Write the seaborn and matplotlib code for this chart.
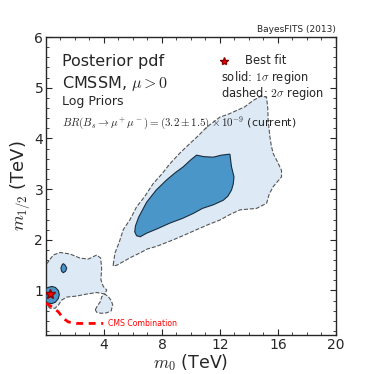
import numpy as np
import seaborn as sns
import matplotlib.pyplot as plt

# --------- #
# contour outlines (m0 [TeV], m1/2 [TeV])

# 2 sigma, main region
outer_main_m0 = [4.64, 4.76, 5.05, 5.33, 5.80, 6.25, 6.80, 7.40, 8.00, 8.55, 9.20, 9.93, 10.50,
                 11.08, 12.00, 12.60, 13.15, 13.70, 14.30, 14.87, 15.22, 15.30, 15.33, 15.45,
                 15.55, 15.68, 15.95, 16.25, 16.25, 15.68, 15.40, 15.22, 14.53, 13.38, 12.70,
                 12.00, 11.20, 10.39, 9.60, 8.78, 7.63, 7.00, 6.48, 5.90, 5.33, 4.90, 4.64]
outer_main_m12 = [1.51, 1.74, 1.95, 2.20, 2.40, 2.65, 2.85, 3.11, 3.30, 3.50, 3.70, 3.90, 4.05,
                  4.22, 4.42, 4.48, 4.55, 4.62, 4.75, 4.84, 4.81, 4.60, 4.35, 4.03,
                  3.85, 3.70, 3.55, 3.37, 3.24, 3.05, 2.90, 2.72, 2.62, 2.59, 2.50,
                  2.39, 2.30, 2.20, 2.10, 2.00, 1.87, 1.82, 1.74, 1.66, 1.57, 1.50, 1.48]

# 2 sigma, low-mass region
outer_low_m0 = [0.0, 0.09, 0.50, 0.97, 1.66, 2.34, 2.92, 3.50, 3.77, 3.84, 3.79, 3.95, 4.19, 4.07,
                3.50, 2.81, 2.12, 1.43, 1.08, 0.85, 0.62, 0.28, 0.05, 0.0]
outer_low_m12 = [1.54, 1.54, 1.70, 1.75, 1.72, 1.64, 1.62, 1.70, 1.64, 1.44, 1.21, 1.08, 1.01, 0.93,
                 0.96, 0.93, 0.89, 0.87, 0.81, 0.71, 0.65, 0.65, 0.71, 0.71]

# 2 sigma, small island
outer_isl_m0 = [3.40, 3.55, 3.75, 3.85, 4.05, 4.30, 4.50, 4.60, 4.50, 4.20, 3.80, 3.50]
outer_isl_m12 = [0.62, 0.70, 0.78, 0.88, 0.93, 0.88, 0.80, 0.72, 0.60, 0.56, 0.55, 0.57]

# 1 sigma, main region
inner_main_m0 = [6.12, 6.18, 6.40, 6.94, 7.60, 8.32, 8.90, 9.47, 10.00, 10.39, 10.90, 11.54,
                 12.10, 12.69, 12.75, 12.80, 12.97, 12.92, 12.80, 12.55, 12.23, 11.54, 10.80,
                 10.16, 9.40, 8.55, 7.70, 6.94, 6.50, 6.25]
inner_main_m12 = [2.16, 2.28, 2.45, 2.74, 2.98, 3.18, 3.32, 3.44, 3.58, 3.67, 3.64, 3.63,
                  3.67, 3.69, 3.55, 3.44, 3.24, 3.10, 2.98, 2.86, 2.78, 2.69, 2.62,
                  2.52, 2.42, 2.33, 2.22, 2.13, 2.06, 2.08]

# 1 sigma, small blob
inner_blob_m0 = [1.03, 1.10, 1.19, 1.32, 1.43, 1.35, 1.19, 1.08]
inner_blob_m12 = [1.44, 1.50, 1.53, 1.50, 1.44, 1.38, 1.35, 1.38]

# 1 sigma, around best fit
inner_bf_m0 = [0.0, 0.15, 0.40, 0.65, 0.85, 0.92, 0.85, 0.65, 0.40, 0.15, 0.0]
inner_bf_m12 = [0.78, 0.75, 0.74, 0.77, 0.84, 0.92, 1.00, 1.06, 1.08, 1.06, 1.04]

best_fit = (0.28, 0.93)

# CMS combination limit
cms_m0 = [0.0, 0.39, 0.85, 1.19, 1.54, 2.12, 3.95]
cms_m12 = [0.75, 0.68, 0.58, 0.45, 0.38, 0.35, 0.35]

# --------- #

sns.set_style("ticks")
plt.rcParams['font.family'] = ['DejaVu Sans']
plt.rcParams['mathtext.fontset'] = 'cm'

fig = plt.figure(figsize=(3.74, 3.74), dpi=100)
ax = fig.add_axes([0.123, 0.104, 0.775, 0.797])

light = "#dde9f5"
dark = "#4a96c8"

for xs, ys in [(outer_main_m0, outer_main_m12), (outer_low_m0, outer_low_m12), (outer_isl_m0, outer_isl_m12)]:
    ax.fill(xs, ys, facecolor=light, edgecolor="#555555", linestyle="--", linewidth=0.8, zorder=2)

for xs, ys in [(inner_main_m0, inner_main_m12), (inner_blob_m0, inner_blob_m12), (inner_bf_m0, inner_bf_m12)]:
    ax.fill(xs, ys, facecolor=dark, edgecolor="#1c2c3c", linestyle="-", linewidth=0.8, zorder=3)

ax.plot(cms_m0, cms_m12, color="red", linestyle="--", linewidth=2, dashes=(2.5, 2), zorder=4)
ax.text(4.3, 0.35, "CMS Combination", color="red", fontsize=5.6, va="center", ha="left")

ax.plot(*best_fit, marker="*", color="red", markeredgecolor="#880000", markersize=7, zorder=5)

# annotation text
ax.text(1.08, 5.51, "Posterior pdf", fontsize=11.5, va="center")
ax.text(1.08, 5.09, r"CMSSM, $\mu>0$", fontsize=11.5, va="center")
ax.text(1.08, 4.72, "Log Priors", fontsize=9, va="center")
ax.text(1.08, 4.31, r"$BR(B_s\rightarrow\mu^+\mu^-)=(3.2\pm1.5)\times10^{-9}$ (current)",
        fontsize=7.9, va="center", color="#222222")

ax.plot(12.3, 5.53, marker="*", color="red", markeredgecolor="#880000", markersize=6)
ax.text(13.72, 5.53, "Best fit", fontsize=8.3, va="center")
ax.text(12.07, 5.21, r"solid: $1\sigma$ region", fontsize=8.3, va="center")
ax.text(12.07, 4.89, r"dashed: $2\sigma$ region", fontsize=8.3, va="center")

ax.text(1.0, 1.01, "BayesFITS (2013)", fontsize=6.5, ha="right", va="bottom", transform=ax.transAxes)

ax.set_xlim(0, 20)
ax.set_ylim(0.12, 6)
ax.set_xticks([4, 8, 12, 16, 20])
ax.set_yticks([1, 2, 3, 4, 5, 6])
ax.set_xticks(np.arange(1, 20, 1), minor=True)
ax.set_yticks(np.arange(0.2, 6.0, 0.2), minor=True)
ax.tick_params(which="both", direction="in", top=True, right=True, labelsize=10)
ax.tick_params(which="major", length=4, pad=2)
ax.tick_params(which="minor", length=2)
for s in ax.spines.values():
    s.set_linewidth(1.0)

ax.set_xlabel(r"$m_0$ (TeV)", fontsize=12.5, labelpad=0)
ax.set_ylabel(r"$m_{1/2}$ (TeV)", fontsize=13, labelpad=2)

plt.savefig("out.png", dpi=100)
